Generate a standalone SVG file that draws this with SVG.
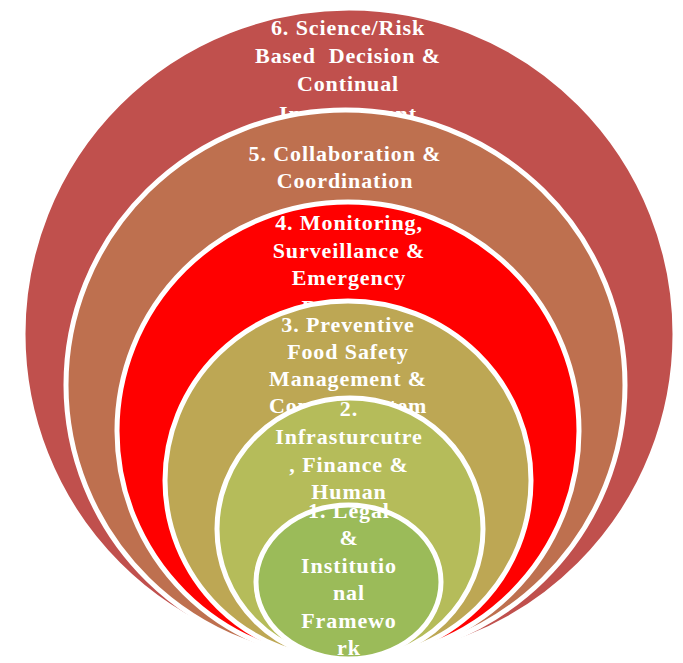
<svg xmlns="http://www.w3.org/2000/svg" width="683" height="663" viewBox="0 0 683 663">
<style>
.ring{stroke:#FFFFFF;stroke-width:5}
.lbl{font-family:"Liberation Serif","Times New Roman",serif;font-weight:bold;font-size:22px;letter-spacing:0.9px;fill:#FFFFFF;text-anchor:middle;white-space:pre}
</style>
<rect width="683" height="663" fill="#FFFFFF"/>
<g id="node6">
<ellipse class="ring" cx="349" cy="334" rx="326" ry="326" fill="#C0504D"/>
<text class="lbl" xml:space="preserve"><tspan x="348" y="35">6. Science/Risk</tspan><tspan x="348" y="63">Based  Decision &amp;</tspan><tspan x="348" y="91">Continual</tspan><tspan x="348" y="121">Improvement</tspan></text>
</g>
<g id="node5">
<ellipse class="ring" cx="345.5" cy="385" rx="279.5" ry="275" fill="#BE704F"/>
<text class="lbl"><tspan x="345" y="161">5. Collaboration &amp;</tspan><tspan x="345" y="188">Coordination</tspan></text>
</g>
<g id="node4">
<ellipse class="ring" cx="348" cy="431" rx="231" ry="229" fill="#FF0000"/>
<text class="lbl"><tspan x="349" y="230">4. Monitoring,</tspan><tspan x="349" y="258">Surveillance &amp;</tspan><tspan x="349" y="285">Emergency</tspan><tspan x="349" y="315">Response</tspan></text>
</g>
<g id="node3">
<ellipse class="ring" cx="348" cy="480.5" rx="183" ry="179.5" fill="#BDA754"/>
<text class="lbl"><tspan x="348" y="332">3. Preventive</tspan><tspan x="348" y="359">Food Safety</tspan><tspan x="348" y="386">Management &amp;</tspan><tspan x="348" y="413">Control System</tspan></text>
</g>
<g id="node2">
<ellipse class="ring" cx="350" cy="529" rx="133" ry="131" fill="#B5BC5A"/>
<text class="lbl"><tspan x="349" y="416">2.</tspan><tspan x="349" y="444">Infrasturcutre</tspan><tspan x="349" y="472">, Finance &amp;</tspan><tspan x="349" y="499">Human</tspan></text>
</g>
<g id="node1">
<ellipse class="ring" cx="348.5" cy="582" rx="92.5" ry="77" fill="#9BBB59"/>
<text class="lbl"><tspan x="349" y="518">1. Legal</tspan><tspan x="349" y="545">&amp;</tspan><tspan x="349" y="573">Institutio</tspan><tspan x="349" y="600">nal</tspan><tspan x="349" y="628">Framewo</tspan><tspan x="349" y="655">rk</tspan></text>
</g>
</svg>
